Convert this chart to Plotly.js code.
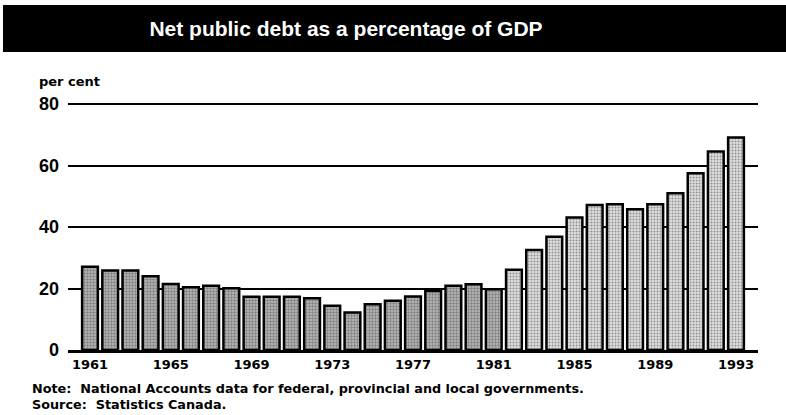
<!DOCTYPE html>
<html>
<head>
<meta charset="utf-8">
<script src="https://cdn.plot.ly/plotly-3.0.1.min.js"></script>
<style>html,body{margin:0;padding:0;background:#fff;}#chart{width:786px;height:415px;}</style>
</head>
<body>
<div id="chart"></div>
<script>
// Data
const years = [1961,1962,1963,1964,1965,1966,1967,1968,1969,1970,1971,1972,1973,1974,1975,1976,1977,
               1978,1979,1980,1981,1982,1983,1984,1985,1986,1987,1988,1989,1990,1991,1992,1993];
const debtPct = [27.1,25.9,25.9,24.0,21.5,20.4,20.9,20.1,17.3,17.3,17.3,16.8,14.4,12.2,14.9,16.0,17.4,
                 19.2,20.9,21.4,19.8,26.1,32.5,36.8,43.1,47.2,47.4,45.8,47.4,51.0,57.5,64.6,69.1];
const xTickYears = [1961,1965,1969,1973,1977,1981,1985,1989,1993];
const yTicks = [0,20,40,60,80];
const titleText = "Net public debt as a percentage of GDP";
const yUnit = "per cent";
const noteText = "Note:  National Accounts data for federal, provincial and local governments.";
const sourceText = "Source:  Statistics Canada.";

// Plot area geometry (pixels)
const L = 68, R = 758, T = 101, B = 350, W = 786, H = 415;
const yTop = 81;
const px = x => (x - L) / (R - L);
const py = y => (B - y) / (B - T);

const bgCols = years.map(y => y <= 1981 ? '#bdbdbd' : '#dedede');
const solid = years.map(y => y <= 1981 ? 0.5 : 0.35);

const trace = {
  type: 'bar',
  x: years,
  y: debtPct,
  width: 0.78,
  marker: {
    color: bgCols,
    line: {color: '#000', width: 2.5},
    pattern: {shape: '.', size: 3, solidity: solid, fgcolor: '#111', fillmode: 'overlay'}
  },
  hoverinfo: 'x+y'
};

const font = 'Liberation Sans, Arial, sans-serif';
const wide = 'DejaVu Sans, Verdana, sans-serif';

const layout = {
  width: W, height: H,
  margin: {l: L, r: W - R, t: T, b: H - B, pad: 0},
  paper_bgcolor: '#fff', plot_bgcolor: '#fff',
  showlegend: false,
  title: {
    text: titleText,
    font: {family: font, size: 21, color: '#fff', weight: 'bold'},
    xref: 'paper', x: px(346), xanchor: 'center',
    yref: 'container', y: 1 - 29 / H, yanchor: 'middle'
  },
  xaxis: {
    range: [1959.91, 1994.09],
    tickvals: xTickYears,
    ticktext: xTickYears.map(String),
    ticks: '', showgrid: false, zeroline: false,
    showline: true, linecolor: '#000', linewidth: 3,
    tickfont: {family: wide, size: 13, color: '#000', weight: 'bold'},
    fixedrange: true
  },
  yaxis: {
    range: [0, yTop],
    tickvals: yTicks,
    ticktext: yTicks.map(String),
    ticks: '', ticklabelstandoff: 8,
    showgrid: true, gridcolor: '#000', gridwidth: 2,
    zeroline: false, showline: false,
    tickfont: {family: font, size: 18, color: '#000', weight: 'bold'},
    fixedrange: true
  },
  shapes: [{
    type: 'rect', xref: 'paper', yref: 'paper', layer: 'below',
    x0: px(3), x1: px(786), y0: py(52), y1: py(5),
    fillcolor: '#000', line: {width: 0}
  }],
  annotations: [
    {text: yUnit, xref: 'paper', yref: 'paper', x: px(37), y: py(82), xanchor: 'left', yanchor: 'middle',
     showarrow: false, font: {family: wide, size: 13, color: '#000', weight: 'bold'}},
    {text: noteText, xref: 'paper', yref: 'paper', x: px(30), y: py(388), xanchor: 'left', yanchor: 'middle',
     showarrow: false, font: {family: wide, size: 12.8, color: '#000', weight: 'bold'}},
    {text: sourceText, xref: 'paper', yref: 'paper', x: px(30), y: py(404), xanchor: 'left', yanchor: 'middle',
     showarrow: false, font: {family: wide, size: 12.8, color: '#000', weight: 'bold'}}
  ]
};

Plotly.newPlot('chart', [trace], layout, {displayModeBar: false, staticPlot: true});
</script>
</body>
</html>
